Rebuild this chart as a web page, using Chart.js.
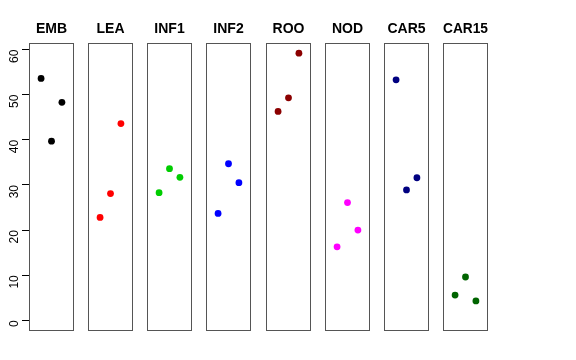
<!DOCTYPE html>
<html>
<head>
<meta charset="utf-8">
<script src="https://cdn.jsdelivr.net/npm/chart.js@4"></script>
<style>
body{margin:0;background:#fff;}
#wrap{position:relative;width:576px;height:360px;}
#wrap canvas{position:absolute;top:0;}
</style>
</head>
<body>
<div id="wrap"></div>
<script>
const groups=["EMB","LEA","INF1","INF2","ROO","NOD","CAR5","CAR15"];
const colors=["#000000","#FF0000","#00CD00","#0000FF","#8B0000","#FF00FF","#000080","#006400"];
const xPos=[1,2,3];
const EMB=[53.6,39.7,48.3];
const LEA=[22.8,28.1,43.6];
const INF1=[28.3,33.6,31.7];
const INF2=[23.7,34.7,30.5];
const ROO=[46.3,49.3,59.2];
const NOD=[16.3,26.1,20.0];
const CAR5=[53.3,28.9,31.6];
const CAR15=[5.6,9.6,4.3];
const series=[EMB,LEA,INF1,INF2,ROO,NOD,CAR5,CAR15];
const yTicks=[0,10,20,30,40,50,60];

const FONT="'Liberation Sans', Arial, sans-serif";
const panelLeft=[29,88,147,206,266,325,384,443];
const axisW=29, panelW=45, side=8;

const boxPlugin={
  id:"box",
  afterDraw(chart){
    const a=chart.chartArea, c=chart.ctx;
    c.save();
    c.strokeStyle="#555";
    c.lineWidth=1;
    c.strokeRect(Math.round(a.left)+0.5,Math.round(a.top)+0.5,Math.round(a.right-a.left)-1,Math.round(a.bottom-a.top)-1);
    c.restore();
  }
};

const wrap=document.getElementById("wrap");
groups.forEach((g,i)=>{
  const first=i===0;
  const cv=document.createElement("canvas");
  const w=first?axisW+panelW+side:panelW+2*side;
  cv.width=w; cv.height=360;
  cv.style.left=(first?0:panelLeft[i]-side)+"px";
  cv.style.width=w+"px"; cv.style.height="360px";
  wrap.appendChild(cv);
  new Chart(cv.getContext("2d"),{
    type:"scatter",
    data:{datasets:[{
      data:xPos.map((x,k)=>({x:x,y:series[i][k]})),
      backgroundColor:colors[i],
      borderWidth:0,
      pointRadius:3.4,
      pointHoverRadius:3.4
    }]},
    options:{
      responsive:false,
      animation:false,
      devicePixelRatio:1,
      layout:{autoPadding:false,padding:{top:21,bottom:29,left:first?0:side,right:side}},
      plugins:{
        legend:{display:false},
        tooltip:{enabled:false},
        title:{display:true,text:g,fullSize:!first,color:"#000",
          font:{family:FONT,size:14,weight:"bold"},padding:{top:0,bottom:5}}
      },
      scales:{
        x:{type:"linear",min:-0.16,max:4.16,display:false},
        y:{type:"linear",min:-2.36,max:61.5,display:first,
          afterFit(s){ if(first) s.width=axisW; },
          afterBuildTicks(s){s.ticks=yTicks.map(v=>({value:v}));},
          border:{display:false},
          grid:{drawOnChartArea:false,drawTicks:true,tickLength:7,color:"#000"},
          ticks:{color:"#000",font:{family:FONT,size:12},minRotation:90,maxRotation:90,padding:7}
        }
      }
    },
    plugins:[boxPlugin]
  });
});
</script>
</body>
</html>
